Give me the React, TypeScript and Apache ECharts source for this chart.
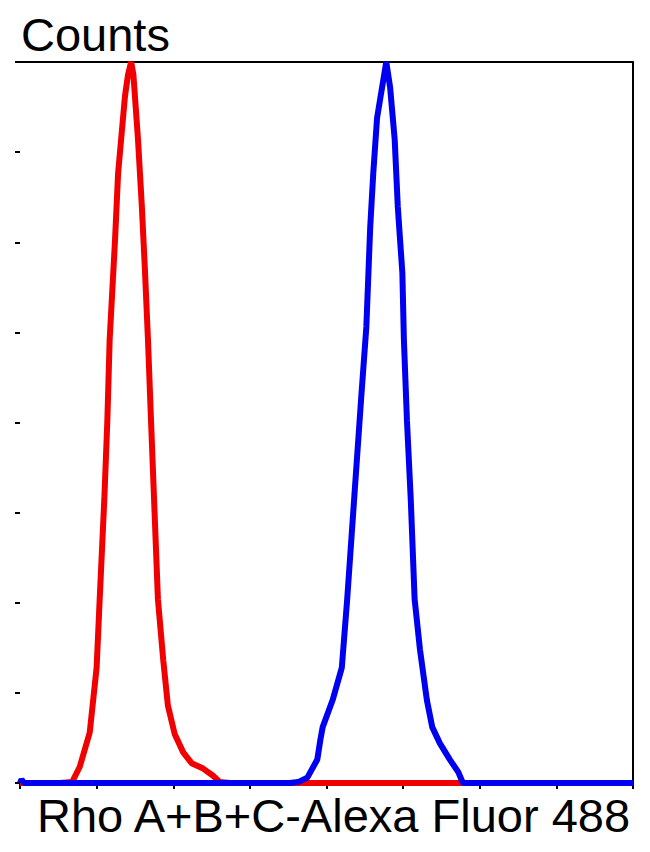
import React, { useEffect, useRef } from "react";
import * as echarts from "echarts";

const redX = [0, 52, 68, 78, 91, 100, 104, 110, 114, 117, 124, 128, 133, 137, 141, 145, 148, 150, 154, 159, 163, 167, 171, 175, 180, 187, 193, 202, 213, 224, 239, 252, 261, 274, 800];
const redCounts = [0, 0, 0.5, 9, 28, 64, 102, 157, 201, 246, 301, 338, 362, 381, 393, 400, 393, 381, 357, 320, 285, 246, 201, 157, 102, 68, 43, 27, 17, 11, 8, 4, 0.5, 0, 0];

const blueX = [0, 2, 5, 352, 363, 375, 388, 392, 395, 408, 420, 427, 436, 445, 452, 457, 461, 466, 478, 483, 489, 493, 499, 501, 505, 510, 515, 522, 531, 538, 548, 561, 572, 578, 800];
const blueCounts = [0, 2, 0, 0, 0.5, 3, 13, 24, 31, 46, 64, 102, 157, 212, 253, 308, 338, 369, 400, 386, 357, 320, 283, 246, 201, 157, 102, 74, 46, 31, 22, 13, 6, 0, 0];

const yTitle = "Counts";
const xTitle = "Rho A+B+C-Alexa Fluor 488";

const FONT = "'Liberation Sans', Arial, sans-serif";

export default function App() {
  const ref = useRef<HTMLDivElement>(null);
  useEffect(() => {
    if (!ref.current) return;
    const chart = echarts.init(ref.current, null, { renderer: "svg" });
    const zip = (xs: number[], ys: number[]) => xs.map((x, i) => [x, ys[i]]);
    chart.setOption({
      animation: false,
      backgroundColor: "#ffffff",
      title: [
        {
          text: yTitle,
          left: 21,
          top: 11,
          padding: 0,
          textStyle: { fontFamily: FONT, fontSize: 47, fontWeight: "normal", color: "#000" },
        },
        {
          text: xTitle,
          left: 37,
          top: 792,
          padding: 0,
          textStyle: { fontFamily: FONT, fontSize: 47, fontWeight: "normal", color: "#000" },
        },
      ],
      grid: { left: 20, right: 17, top: 62, bottom: 69, containLabel: false },
      xAxis: [
        {
          type: "value",
          min: 0,
          max: 800,
          interval: 100,
          position: "bottom",
          axisLine: { show: true, lineStyle: { color: "#000", width: 2 } },
          axisTick: { show: true, length: 6, lineStyle: { color: "#000", width: 2 } },
          axisLabel: { show: false },
          splitLine: { show: false },
        },
        {
          type: "value",
          min: 0,
          max: 800,
          position: "top",
          axisLine: { show: true, onZero: false, lineStyle: { color: "#000", width: 2 } },
          axisTick: { show: false },
          axisLabel: { show: false },
          splitLine: { show: false },
        },
      ],
      yAxis: [
        {
          type: "value",
          min: 0,
          max: 400,
          interval: 50,
          position: "left",
          axisLine: { show: false },
          axisTick: { show: true, length: 5, lineStyle: { color: "#000", width: 2 } },
          axisLabel: { show: false },
          splitLine: { show: false },
        },
        {
          type: "value",
          min: 0,
          max: 400,
          position: "right",
          axisLine: { show: true, onZero: false, lineStyle: { color: "#000", width: 2 } },
          axisTick: { show: false },
          axisLabel: { show: false },
          splitLine: { show: false },
        },
      ],
      series: [
        {
          type: "line",
          data: zip(redX, redCounts),
          showSymbol: false,
          clip: false,
          lineStyle: { color: "#f00000", width: 6 },
          z: 3,
        },
        {
          type: "line",
          data: zip(blueX, blueCounts),
          showSymbol: false,
          clip: false,
          lineStyle: { color: "#0000f0", width: 6 },
          z: 4,
        },
      ],
    });
    return () => chart.dispose();
  }, []);
  return (
    <div
      ref={ref}
      style={{ position: "fixed", left: 0, top: 0, width: 650, height: 852 }}
    />
  );
}
